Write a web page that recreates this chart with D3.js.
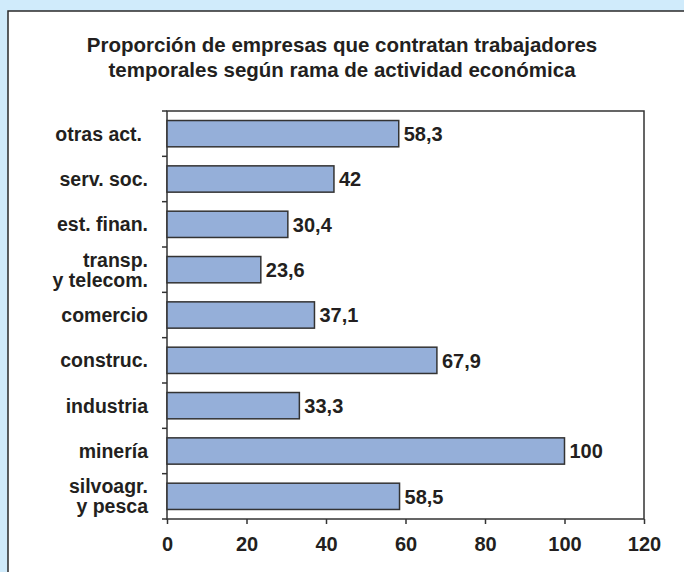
<!DOCTYPE html>
<html>
<head>
<meta charset="utf-8">
<script src="https://cdn.jsdelivr.net/npm/d3@7"></script>
<style>
  body { margin: 0; background: #d0ebfb; }
  svg { display: block; }
  text { font-family: "Liberation Sans", Arial, sans-serif; font-weight: bold; fill: #231f20; }
</style>
</head>
<body>
<script>
// Proporción de empresas que contratan trabajadores temporales
var width = 684;
var height = 572;

var margin = { top: 111, left: 167, right: 40, bottom: 53 };

// data, top to bottom
var categories = ["otras act.", "serv. soc.", "est. finan.", "transp.|y telecom.", "comercio",
                  "construc.", "industria", "minería", "silvoagr.|y pesca"];
var values = [58.3, 42, 30.4, 23.6, 37.1, 67.9, 33.3, 100, 58.5];
var xTicks = [0, 20, 40, 60, 80, 100, 120];

var svg = d3.select("body")
  .append("svg")
  .attr("width", width)
  .attr("height", height);

// white panel
svg.append("rect")
  .attr("x", 9.5).attr("y", 12.5)
  .attr("width", width + 10).attr("height", height + 10)
  .attr("fill", "none").attr("stroke", "#a0a0a0").attr("stroke-width", 2);
svg.append("rect")
  .attr("x", 8).attr("y", 11)
  .attr("width", width + 10).attr("height", height + 10)
  .attr("fill", "#fff").attr("stroke", "#2a2a2a").attr("stroke-width", 1.5);

// title
var title = svg.append("text")
  .attr("text-anchor", "middle")
  .style("font-size", "20.5px");
title.append("tspan").attr("x", 342).attr("y", 52).text("Proporción de empresas que contratan trabajadores");
title.append("tspan").attr("x", 342).attr("y", 77).text("temporales según rama de actividad económica");

var xScale = d3.scaleLinear()
  .domain([0, 120])
  .range([margin.left, width - margin.right]);

var yScale = d3.scaleBand()
  .domain(categories)
  .range([margin.top, height - margin.bottom])
  .paddingInner(0.42)
  .paddingOuter(0.21);

// plot frame
svg.append("rect")
  .attr("x", margin.left).attr("y", margin.top)
  .attr("width", xScale(120) - margin.left)
  .attr("height", height - margin.bottom - margin.top)
  .attr("fill", "none").attr("stroke", "#333").attr("stroke-width", 1.5);

// bars
svg.selectAll(".bar")
  .data(values)
  .enter()
  .append("rect")
    .attr("class", "bar")
    .attr("x", xScale(0))
    .attr("y", function(d, i) { return yScale(categories[i]); })
    .attr("width", function(d) { return xScale(d) - xScale(0); })
    .attr("height", yScale.bandwidth())
    .attr("fill", "#95afd9")
    .attr("stroke", "#333")
    .attr("stroke-width", 1.5);

// value labels
svg.selectAll(".val")
  .data(values)
  .enter()
  .append("text")
    .attr("class", "val")
    .attr("x", function(d) { return xScale(d) + 5; })
    .attr("y", function(d, i) { return yScale(categories[i]) + yScale.bandwidth() / 2; })
    .attr("dy", "0.36em")
    .style("font-size", "20px")
    .text(function(d) { return String(d).replace(".", ","); });

// x axis
var xAxis = svg.append("g")
  .attr("transform", "translate(0," + (height - margin.bottom) + ")")
  .call(d3.axisBottom(xScale).tickValues(xTicks).tickSize(5).tickPadding(13).tickSizeOuter(0));
xAxis.select(".domain").remove();
xAxis.selectAll("line").attr("stroke", "#333").attr("stroke-width", 1.5);
xAxis.selectAll("text")
  .style("font-size", "20px")
  .style("font-family", "'Liberation Sans', Arial, sans-serif")
  .style("font-weight", "bold")
  .attr("fill", "#231f20");

// category ticks on the left (band boundaries)
var step = yScale.step();
var boundaries = d3.range(categories.length + 1).map(function(i) { return margin.top + i * step; });
svg.selectAll(".ytick")
  .data(boundaries)
  .enter()
  .append("line")
    .attr("x1", margin.left - 5).attr("x2", margin.left)
    .attr("y1", function(d) { return d; }).attr("y2", function(d) { return d; })
    .attr("stroke", "#333").attr("stroke-width", 1.5);

// category labels
svg.selectAll(".cat")
  .data(categories)
  .enter()
  .append("text")
    .attr("class", "cat")
    .attr("text-anchor", "end")
    .style("font-size", "19.5px")
    .each(function(d) {
      var lines = d.split("|");
      var cy = yScale(d) + yScale.bandwidth() / 2;
      var t = d3.select(this);
      lines.forEach(function(l, j) {
        t.append("tspan")
          .attr("x", d === "otras act." ? 142 : 148)
          .attr("y", cy + (j - (lines.length - 1) / 2) * 20)
          .attr("dy", "0.36em")
          .text(l);
      });
    });
</script>
</body>
</html>
